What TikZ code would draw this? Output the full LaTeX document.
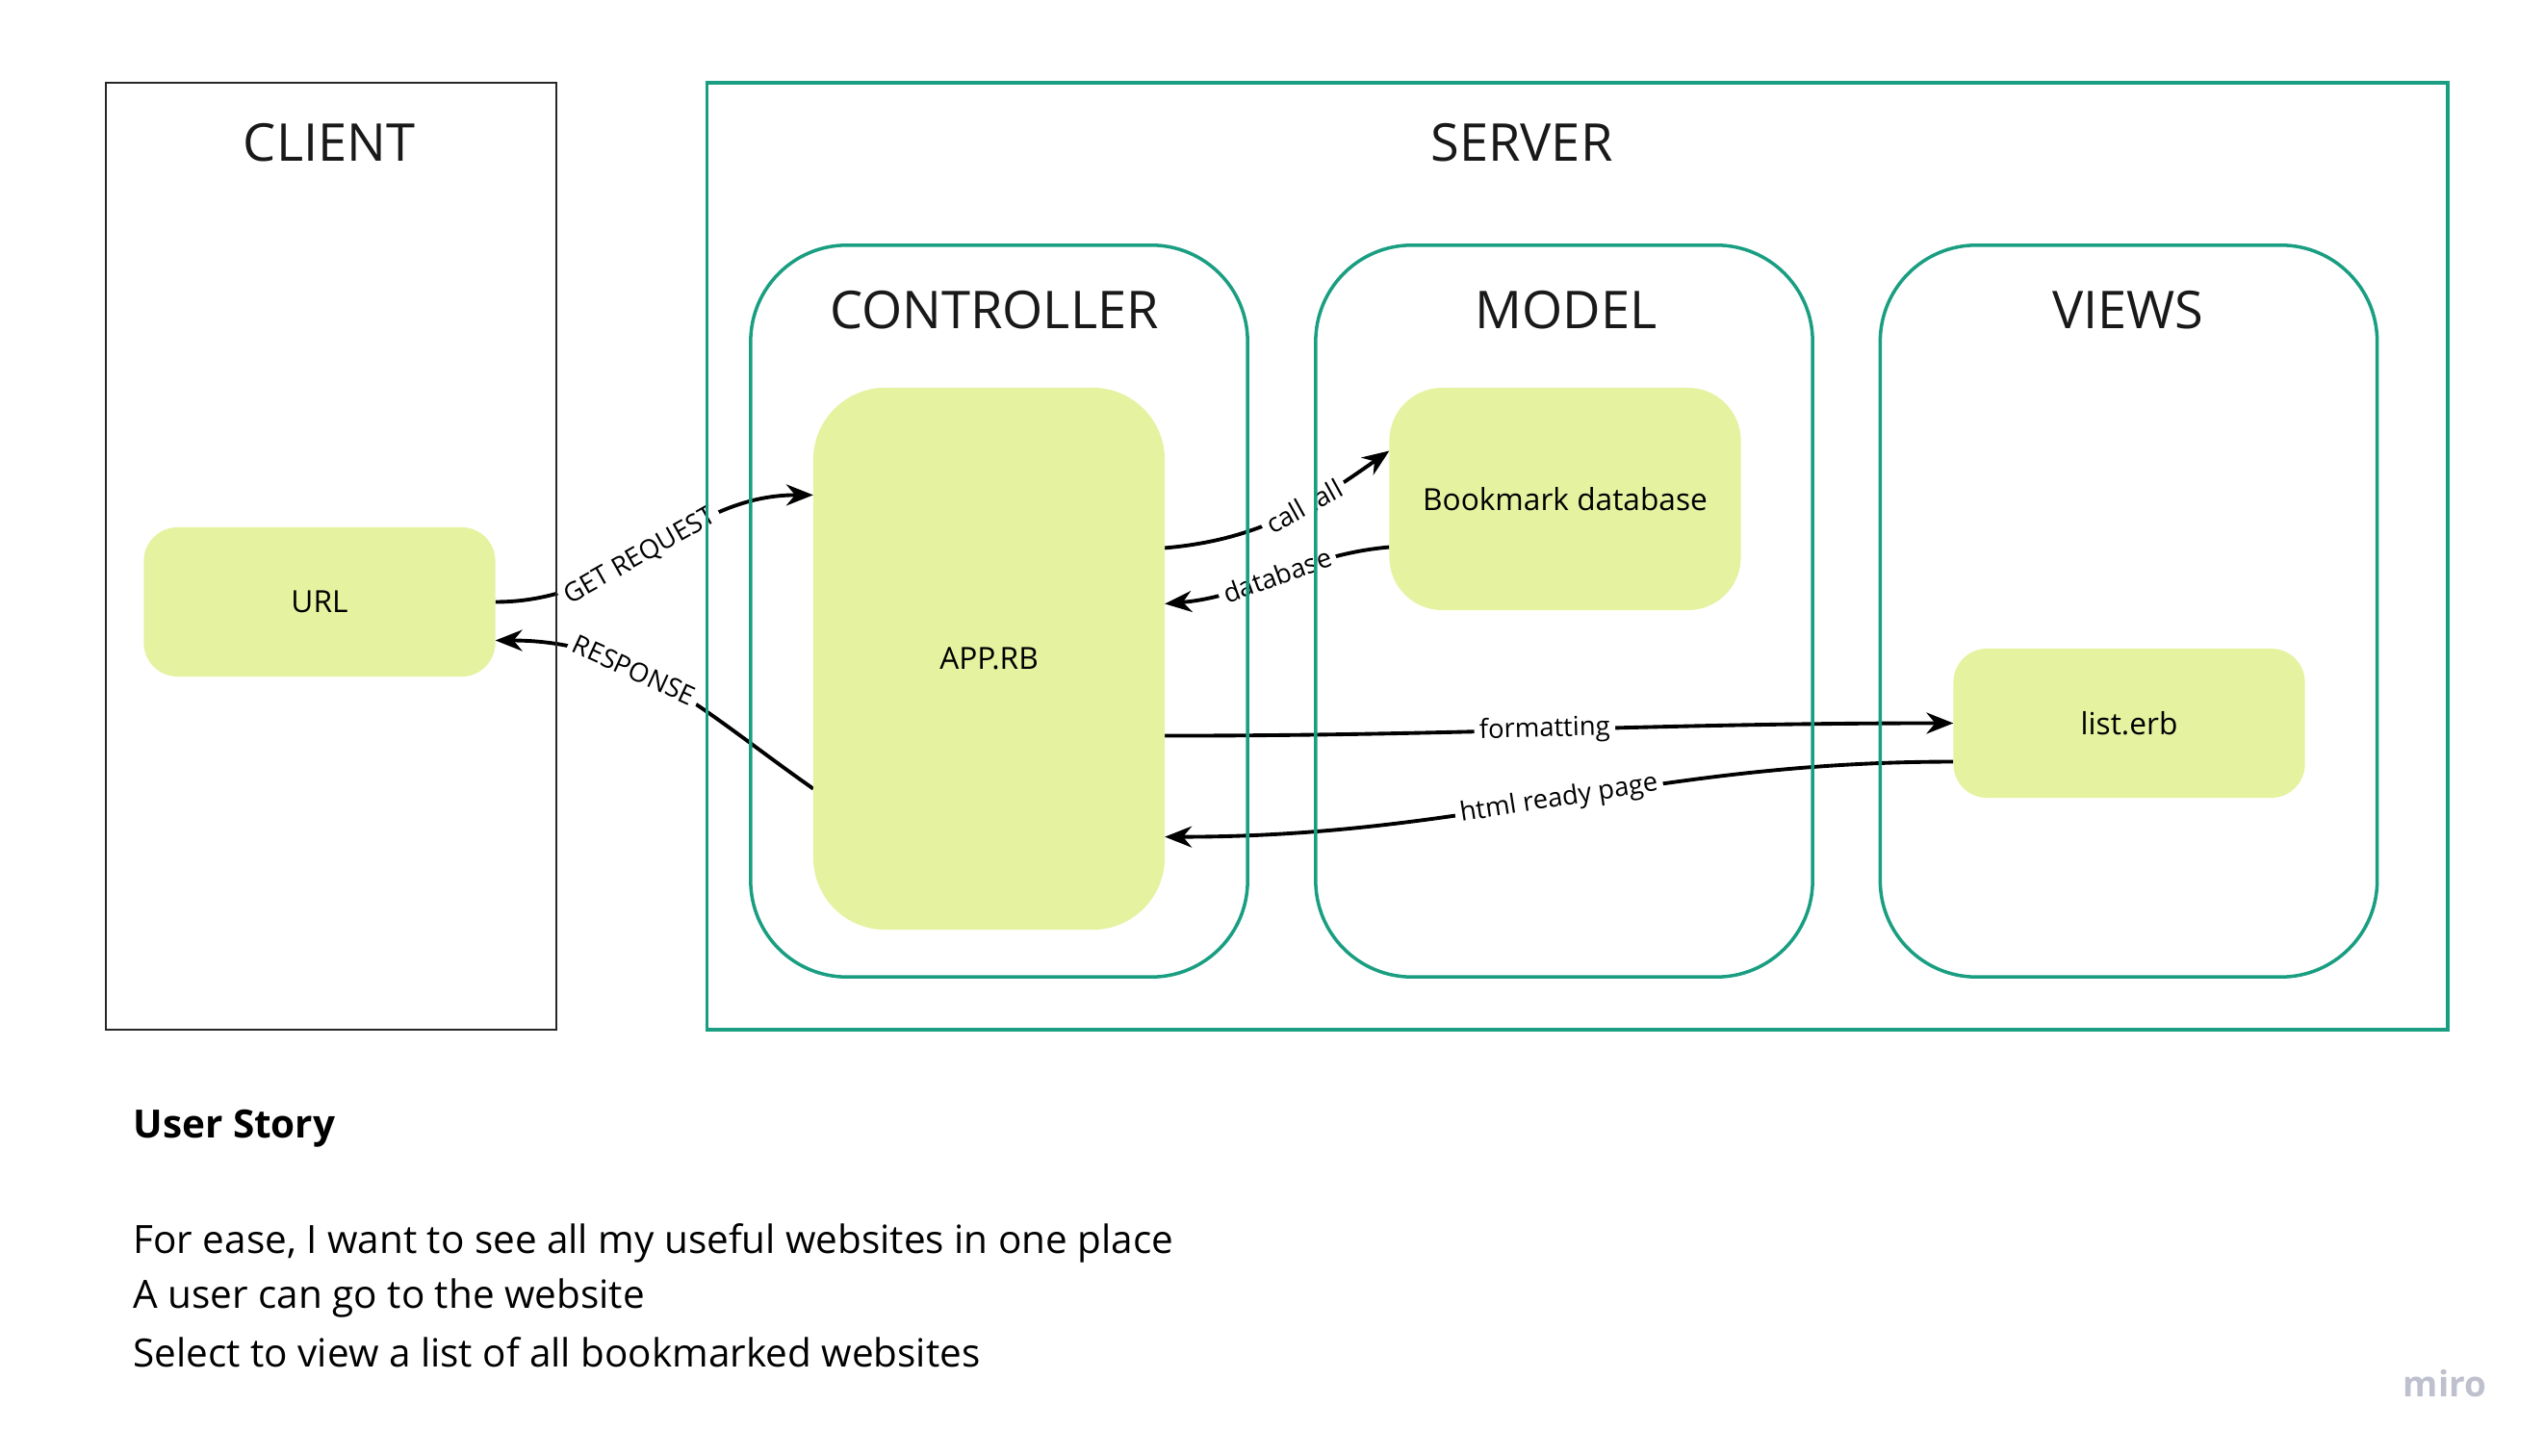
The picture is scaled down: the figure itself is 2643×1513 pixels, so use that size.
\documentclass[tikz,border=0pt]{standalone}
\usepackage{fontspec}
\setmainfont{Open Sans}
\usetikzlibrary{arrows.meta,backgrounds}
\definecolor{serverteal}{HTML}{1A9E82}
\definecolor{boxfill}{HTML}{E5F2A0}
\definecolor{mirogray}{HTML}{BFC0CE}

\begin{document}
\begin{tikzpicture}[x=0.01cm, y=-0.01cm,
    outerbox/.style={draw=serverteal, line width=1pt, rounded corners=1cm, minimum width=5.16cm, minimum height=7.6cm, inner sep=0pt, outer sep=0pt},
    filebox/.style={fill=boxfill, minimum width=3.65cm, inner sep=0pt, outer sep=0pt, font=\fontsize{9}{11}\selectfont},
    heading/.style={font=\fontsize{15.4}{18}\selectfont, text=black!90},
    flow/.style={line width=1.1pt, -{Stealth[length=0.28cm, width=0.22cm]}},
    lbl/.style={fill=white, inner sep=1.5pt, font=\fontsize{7.8}{9}\selectfont, sloped},
    story/.style={anchor=west, inner sep=0pt, font=\fontsize{11.5}{13}\selectfont}]
    \useasboundingbox (0,0) rectangle (2643,1513);

    % Draw the client and server frames
    \node at (344,578) [draw=black!85, line width=0.6pt, minimum width=4.68cm, minimum height=9.84cm, inner sep=0pt] (client) {};
    \node at (342,148) [heading] (clienttitle) {CLIENT};
    \node at (1638.5,578) [draw=serverteal, line width=1.1pt, minimum width=18.07cm, minimum height=9.84cm, inner sep=0pt] (server) {};
    \node at (1581,148) [heading] (servertitle) {SERVER};

    % MVC parts
    \node at (1038,635) [outerbox] (controller) {};
    \node at (1033,322) [heading] (controllertitle) {CONTROLLER};
    \node at (1625,635) [outerbox] (model) {};
    \node at (1627,322) [heading] (modeltitle) {MODEL};
    \node at (2211.5,635) [outerbox] (views) {};
    \node at (2211,322) [heading] (viewstitle) {VIEWS};

    % files
    \node at (332,625.5) [filebox, minimum height=1.55cm, rounded corners=0.35cm] (url) {URL};
    \node at (1027.5,684.5) [filebox, minimum height=5.63cm, rounded corners=0.75cm] (app) {APP.RB};
    \node at (1626,518.5) [filebox, minimum height=2.31cm, rounded corners=0.55cm] (bookmark) {Bookmark database};
    \node at (2212,751.5) [filebox, minimum height=1.55cm, rounded corners=0.35cm] (listerb) {list.erb};

    % arrows between the files
    \begin{scope}[on background layer]
    \draw[flow] (url.east) to[out=0, in=180] node[lbl, pos=0.45] {GET REQUEST} ([yshift=1.7cm]app.west);
    \draw[flow] ([yshift=-1.35cm]app.west) to[out=145, in=0] node[lbl, pos=0.6] {RESPONSE} ([yshift=-0.4cm]url.east);
    \draw[flow] ([yshift=1.15cm]app.east) to[out=5, in=215] node[lbl, pos=0.6] {call .all} ([yshift=0.5cm]bookmark.west);
    \draw[flow] ([yshift=-0.5cm]bookmark.west) to[out=185, in=5] node[lbl] {database} ([yshift=0.57cm]app.east);
    \draw[flow] ([yshift=-0.8cm]app.east) to[out=0, in=180] node[lbl, pos=0.48] {formatting} (listerb.west);
    \draw[flow] ([yshift=-0.4cm]listerb.west) to[out=180, in=0] node[lbl] {html ready page} ([yshift=-1.85cm]app.east);
    \end{scope}

    % user story
    \node at (138,1173) [story, font=\bfseries\fontsize{11.5}{13}\selectfont] (storytitle) {User Story};
    \node at (138,1292) [story] (storyone) {For ease, I want to see all my useful websites in one place};
    \node at (138,1349) [story] (storytwo) {A user can go to the website};
    \node at (138,1405) [story] (storythree) {Select to view a list of all bookmarked websites};

    \node at (2540,1438) [text=mirogray, font=\bfseries\fontsize{10.5}{13}\selectfont] (miro) {miro};
\end{tikzpicture}
\end{document}
